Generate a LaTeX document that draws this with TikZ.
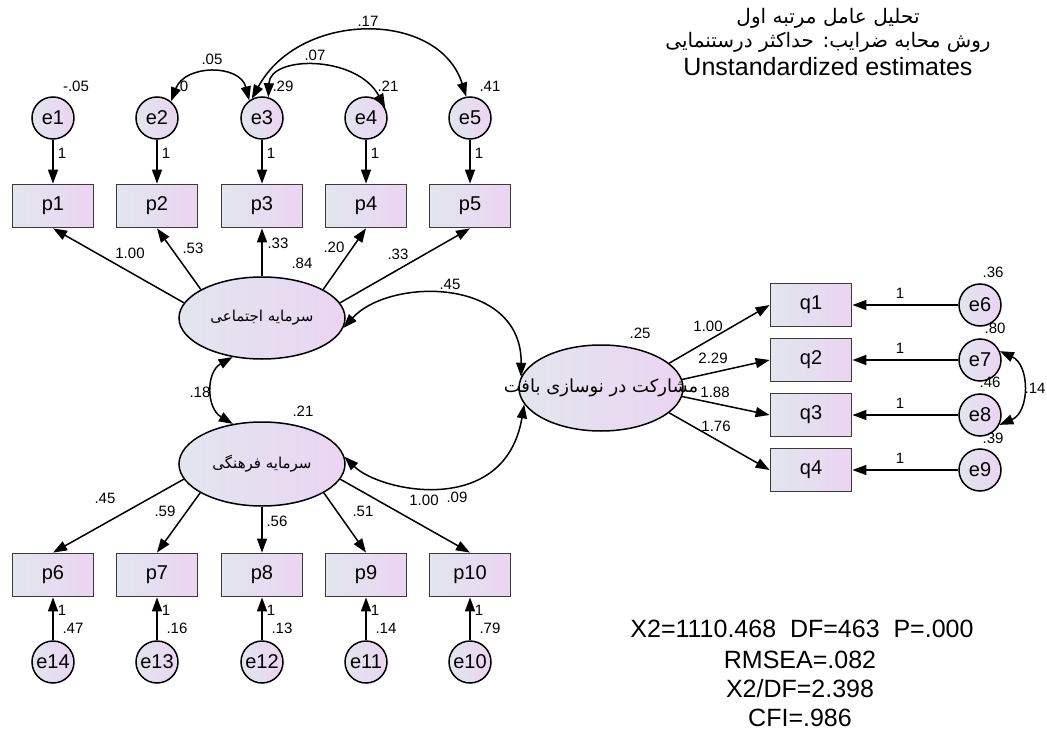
\documentclass[tikz,border=0pt]{standalone}
\usepackage{fontspec}
\setmainfont{Liberation Sans}
\newfontfamily\fa[Script=Arabic]{DejaVu Sans}
\TeXXeTstate=1
\usetikzlibrary{arrows.meta,shapes.geometric}
\definecolor{fondG}{HTML}{E2E6EE}
\definecolor{fondD}{HTML}{EBD4F2}
\definecolor{bord}{HTML}{3A3A3A}
\begin{document}
\begin{tikzpicture}[x=1pt,y=-1pt]
			% Styles des variables et des fleches
			\tikzset{
				obs/.style={draw=bord, line width=1.8pt, left color=fondG, right color=fondD, minimum width=81pt, minimum height=43pt, inner sep=0pt, font=\fontsize{20}{24}\selectfont},
				err/.style={circle, draw=black, line width=1.5pt, left color=fondG, right color=fondD, minimum size=42pt, inner sep=0pt, font=\fontsize{20}{24}\selectfont},
				lat/.style={ellipse, draw=black, line width=1.5pt, left color=fondG, right color=fondD, minimum width=166pt, minimum height=82pt, inner sep=0pt, font=\fontsize{15}{18}\fa},
				num/.style={inner sep=0pt, font=\fontsize{15}{18}\selectfont},
				big/.style={inner sep=0pt, font=\fontsize{25}{29}\selectfont},
				fatitre/.style={inner sep=0pt, font=\fontsize{20}{24}\fa},
				reg/.style={line width=1.5pt, -{Triangle[length=14pt,width=10pt]}},
				cov/.style={line width=1.5pt, {Triangle[length=14pt,width=10pt]}-{Triangle[length=14pt,width=10pt]}}
			}
			\useasboundingbox (0,0) rectangle (1047,730);
			% Titre
			\node[fatitre] (t1) at (828,18) {\beginR تحلیل عامل مرتبه اول\endR};
			\node[fatitre] (t2) at (828,42) {\beginR روش محابه ضرایب: حداکثر درستنمایی\endR};
			\node[big] (t3) at (828,67) {Unstandardized estimates};
			% Variables latentes
			\node[lat] (soc) at (262,318) {\makebox[0pt]{\beginR سرمایه اجتماعی\endR}};
			\node[lat, minimum height=84pt] (cul) at (262,464) {\makebox[0pt]{\beginR سرمایه فرهنگی\endR}};
			\node[lat, minimum width=164pt, minimum height=86pt] (par) at (601,388) {\makebox[0pt]{\fontsize{18}{21}\selectfont\beginR مشارکت در نوسازی بافت\endR}};
			% Indicateurs du haut
			\node[err] (e1) at (53,118) {e1};
			\node[err] (e2) at (157,118) {e2};
			\node[err] (e3) at (262,118) {e3};
			\node[err] (e4) at (366,118) {e4};
			\node[err] (e5) at (470,118) {e5};
			\node[obs] (p1) at (53,206) {p1};
			\node[obs] (p2) at (157,206) {p2};
			\node[obs] (p3) at (262,206) {p3};
			\node[obs] (p4) at (366,206) {p4};
			\node[obs] (p5) at (470,206) {p5};
			% Indicateurs du bas
			\node[obs] (p6) at (53,575) {p6};
			\node[obs] (p7) at (157,575) {p7};
			\node[obs] (p8) at (262,575) {p8};
			\node[obs] (p9) at (366,575) {p9};
			\node[obs] (p10) at (470,575) {p10};
			\node[err] (e14) at (53,662) {e14};
			\node[err] (e13) at (157,662) {e13};
			\node[err] (e12) at (262,662) {e12};
			\node[err] (e11) at (366,662) {e11};
			\node[err] (e10) at (470,662) {e10};
			% Indicateurs de droite
			\node[obs] (q1) at (811,305) {q1};
			\node[obs] (q2) at (811,360) {q2};
			\node[obs] (q3) at (811,415) {q3};
			\node[obs] (q4) at (811,470) {q4};
			\node[err] (e6) at (980,305) {e6};
			\node[err] (e7) at (980,360) {e7};
			\node[err] (e8) at (980,415) {e8};
			\node[err] (e9) at (980,470) {e9};
			% Fleches
			\draw[reg] (e1) -- (p1); \draw[reg] (e2) -- (p2); \draw[reg] (e3) -- (p3);
			\draw[reg] (e4) -- (p4); \draw[reg] (e5) -- (p5);
			\draw[reg] (e14) -- (p6); \draw[reg] (e13) -- (p7); \draw[reg] (e12) -- (p8);
			\draw[reg] (e11) -- (p9); \draw[reg] (e10) -- (p10);
			\draw[reg] (e6) -- (q1); \draw[reg] (e7) -- (q2); \draw[reg] (e8) -- (q3); \draw[reg] (e9) -- (q4);
			\draw[reg] (soc.169) -- (p1.south); \draw[reg] (soc.155) -- (p2.south);
			\draw[reg] (soc.90) -- (p3.south); \draw[reg] (soc.25) -- (p4.south);
			\draw[reg] (soc.11) -- (p5.south);
			\draw[reg] (cul.191) -- (p6.north); \draw[reg] (cul.205) -- (p7.north);
			\draw[reg] (cul.270) -- (p8.north); \draw[reg] (cul.335) -- (p9.north);
			\draw[reg] (cul.349) -- (p10.north);
			\draw[reg] (par.20) -- (q1.west); \draw[reg] (par.6) -- (q2.west);
			\draw[reg] (par.-6) -- (q3.west); \draw[reg] (par.-20) -- (q4.west);
			% Covariances
			\draw[cov] (soc.233) .. controls (206,372) and (206,408) .. (cul.126);
			\draw[cov] (soc.-7) .. controls (390,277) and (522,277) .. (par.172);
			\draw[cov] (cul.5) .. controls (380,492) and (505,518) .. (par.192);
			\draw[cov] (e2.50) .. controls (185,64) and (240,64) .. (e3.126);
			\draw[cov] (e3.73) .. controls (270,55) and (357,55) .. (e4.28);
			\draw[cov] (e3.118) .. controls (300,10) and (439,10) .. (e5.100);
			\draw[cov] (e7.24) .. controls (1030,365) and (1030,412) .. (e8.-27);
			% Estimations
			\node[num] (v1) at (76,86) {-.05}; \node[num] (v2) at (184,86) {0};
			\node[num] (v3) at (283,86) {.29}; \node[num] (v4) at (388,86) {.21};
			\node[num] (v5) at (490,86) {.41};
			\node[num] (c23) at (212,59) {.05}; \node[num] (c34) at (315,55) {.07};
			\node[num] (c35) at (368,21) {.17};
			\node[num] (u1) at (62,153) {1}; \node[num] (u2) at (166,153) {1};
			\node[num] (u3) at (271,153) {1}; \node[num] (u4) at (375,153) {1};
			\node[num] (u5) at (479,153) {1};
			\node[num] (w1) at (130,253) {1.00}; \node[num] (w2) at (193,248) {.53};
			\node[num] (w3) at (278,243) {.33}; \node[num] (w4) at (334,247) {.20};
			\node[num] (w5) at (398,254) {.33}; \node[num] (vsoc) at (302,263) {.84};
			\node[num] (c12) at (200,392) {.18}; \node[num] (vcul) at (303,411) {.21};
			\node[num] (c13) at (450,284) {.45}; \node[num] (c23b) at (457,497) {.09};
			\node[num] (w6) at (105,498) {.45}; \node[num] (w7) at (165,511) {.59};
			\node[num] (w8) at (277,521) {.56}; \node[num] (w9) at (363,511) {.51};
			\node[num] (w10) at (424,500) {1.00};
			\node[num] (u14) at (62,610) {1}; \node[num] (u13) at (166,610) {1};
			\node[num] (u12) at (271,610) {1}; \node[num] (u11) at (375,610) {1};
			\node[num] (u10) at (479,610) {1};
			\node[num] (v14) at (73,628) {.47}; \node[num] (v13) at (177,628) {.16};
			\node[num] (v12) at (282,628) {.13}; \node[num] (v11) at (386,628) {.14};
			\node[num] (v10) at (490,628) {.79};
			\node[num] (vpar) at (640,333) {.25};
			\node[num] (z1) at (708,326) {1.00}; \node[num] (z2) at (713,358) {2.29};
			\node[num] (z3) at (715,392) {1.88}; \node[num] (z4) at (716,426) {1.76};
			\node[num] (u6) at (900,293) {1}; \node[num] (u7) at (900,348) {1};
			\node[num] (u8) at (900,403) {1}; \node[num] (u9) at (900,458) {1};
			\node[num] (v6) at (993,272) {.36}; \node[num] (v7) at (995,328) {.80};
			\node[num] (v8) at (990,382) {.46}; \node[num] (v9) at (993,438) {.39};
			\node[num] (c78) at (1035,388) {.14};
			% Ajustement
			\node[big] (f1) at (802,629) {X2=1110.468\ \ DF=463\ \ P=.000};
			\node[big] (f2) at (800,660) {RMSEA=.082};
			\node[big] (f3) at (800,689) {X2/DF=2.398};
			\node[big] (f4) at (800,718) {CFI=.986};
		\end{tikzpicture}
\end{document}
